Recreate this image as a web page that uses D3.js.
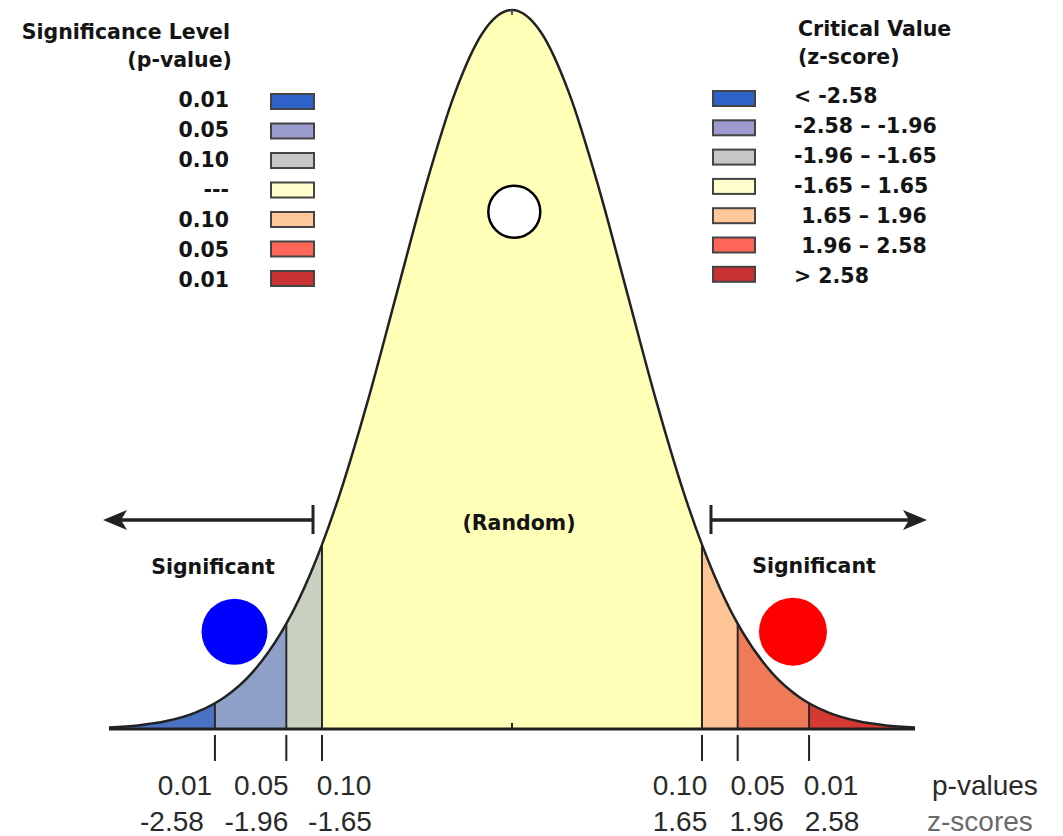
<!DOCTYPE html>
<html>
<head>
<meta charset="utf-8">
<script src="https://cdn.jsdelivr.net/npm/d3@7"></script>
<style>
  body { margin: 0; background: #fff; }
  svg { display: block; }
  .leg { font-family: "DejaVu Sans", Verdana, sans-serif; font-weight: bold; font-size: 20.5px; fill: #141414; white-space: pre; }
  .tick-lab { font-family: "Liberation Sans", Arial, sans-serif; font-size: 28px; fill: #2a2a2a; }
</style>
</head>
<body>
<script>
// curve heights (density per z unit), left half mirrored
var curveZ = [0, 0.25, 0.5, 0.75, 1, 1.25, 1.5, 1.65, 1.75, 1.96, 2, 2.25, 2.5, 2.58, 2.75, 3, 3.25, 3.5]
var curveDensity = [0.3989, 0.3867, 0.3521, 0.3011, 0.2420, 0.1826, 0.1295, 0.1023, 0.0863, 0.0584, 0.0540, 0.0317, 0.0175, 0.0143, 0.0091, 0.0044, 0.0020, 0.0009]

// critical values and their labels
var zBreaks = [-2.58, -1.96, -1.65, 1.65, 1.96, 2.58]
var pTickLabels = ["0.01", "0.05", "0.10", "0.10", "0.05", "0.01"]
var zTickLabels = ["-2.58", "-1.96", "-1.65", "1.65", "1.96", "2.58"]

// legend rows
var pLegend = ["0.01", "0.05", "0.10", "---", "0.10", "0.05", "0.01"]
var zLegend = ["< -2.58", "-2.58 \u2013 -1.96", "-1.96 \u2013 -1.65", "-1.65 \u2013 1.65", " 1.65 \u2013 1.96", " 1.96 \u2013 2.58", "> 2.58"]

// marker dots (z, density)
var dotZ = [-2.41, 0.02, 2.44]
var dotDensity = [0.054, 0.287, 0.054]

var regionColors = ["#4a72c4", "#8fa0c8", "#c8d0c0", "#ffffb8", "#fdc596", "#f07a58", "#d43a32"]
var swatchColors = ["#2f62c8", "#9b9bd0", "#c6c6c6", "#ffffcc", "#ffc89a", "#ff6659", "#c83232"]
var dotColors = ["#0000ff", "#ffffff", "#ff0000"]
var dotRadius = [33, 26, 34]
var pShift = [-30, -25, 22, -22, 20, 22]
var zShift = [-43, -30, 18, -22, 19, 23]

var width = 1063, height = 836

var svg = d3.select("body").append("svg")
    .attr("width", width)
    .attr("height", height)

var x = d3.scaleLinear().domain([-3.5, 3.5]).range([109, 915])
var y = d3.scaleLinear().domain([0, 0.3989]).range([729, 10])

// build full symmetric curve
var pts = []
for (var i = curveZ.length - 1; i > 0; i--) pts.push([-curveZ[i], curveDensity[i]])
for (var i = 0; i < curveZ.length; i++) pts.push([curveZ[i], curveDensity[i]])

var area = d3.area()
    .x(function(d) { return x(d[0]) })
    .y0(y(0))
    .y1(function(d) { return y(d[1]) })
    .curve(d3.curveMonotoneX)

var line = d3.line()
    .x(function(d) { return x(d[0]) })
    .y(function(d) { return y(d[1]) })
    .curve(d3.curveMonotoneX)

svg.append("clipPath").attr("id", "under")
  .append("path").attr("d", area(pts))

var edges = [-3.5].concat(zBreaks).concat([3.5])
var under = svg.append("g").attr("clip-path", "url(#under)")

under.selectAll("rect")
  .data(regionColors)
  .enter().append("rect")
    .attr("x", function(d, i) { return x(edges[i]) })
    .attr("width", function(d, i) { return x(edges[i + 1]) - x(edges[i]) })
    .attr("y", 0)
    .attr("height", y(0))
    .attr("fill", function(d) { return d })

under.selectAll("line")
  .data(zBreaks)
  .enter().append("line")
    .attr("x1", function(d) { return x(d) })
    .attr("x2", function(d) { return x(d) })
    .attr("y1", 0)
    .attr("y2", y(0))
    .attr("stroke", "#2a2a2a")
    .attr("stroke-width", 2)

svg.append("path")
  .attr("d", line(pts))
  .attr("fill", "none")
  .attr("stroke", "#222")
  .attr("stroke-width", 2.5)

// baseline
svg.append("line")
  .attr("x1", x(-3.5)).attr("x2", x(3.5))
  .attr("y1", y(0)).attr("y2", y(0))
  .attr("stroke", "#222").attr("stroke-width", 3)

svg.append("line")
  .attr("x1", x(0)).attr("x2", x(0))
  .attr("y1", y(0) - 6).attr("y2", y(0))
  .attr("stroke", "#222").attr("stroke-width", 2)

svg.append("line")
  .attr("x1", x(0)).attr("x2", x(0))
  .attr("y1", y(0.3989)).attr("y2", y(0.3989) + 5)
  .attr("stroke", "#555").attr("stroke-width", 2)

// ticks below the axis
svg.selectAll(".tk")
  .data(zBreaks)
  .enter().append("line")
    .attr("class", "tk")
    .attr("x1", function(d) { return x(d) })
    .attr("x2", function(d) { return x(d) })
    .attr("y1", 735)
    .attr("y2", 761)
    .attr("stroke", "#222")
    .attr("stroke-width", 2)

svg.selectAll(".plab")
  .data(pTickLabels)
  .enter().append("text")
    .attr("class", "tick-lab")
    .attr("x", function(d, i) { return x(zBreaks[i]) + pShift[i] })
    .attr("y", 795)
    .attr("text-anchor", "middle")
    .text(function(d) { return d })

svg.selectAll(".zlab")
  .data(zTickLabels)
  .enter().append("text")
    .attr("class", "tick-lab")
    .attr("x", function(d, i) { return x(zBreaks[i]) + zShift[i] })
    .attr("y", 831)
    .attr("text-anchor", "middle")
    .text(function(d) { return d })

svg.append("text").attr("class", "tick-lab")
  .attr("x", 932).attr("y", 795).text("p-values")
svg.append("text").attr("class", "tick-lab")
  .attr("x", 927).attr("y", 831).style("fill", "#6a6a6a").text("z-scores")

// arrows
var ay = 520
function arrow(barX, tipX) {
  var dir = tipX < barX ? -1 : 1
  svg.append("line")
    .attr("x1", barX).attr("x2", tipX - dir * 10)
    .attr("y1", ay).attr("y2", ay)
    .attr("stroke", "#222").attr("stroke-width", 3.5)
  svg.append("line")
    .attr("x1", barX).attr("x2", barX)
    .attr("y1", ay - 15).attr("y2", ay + 14)
    .attr("stroke", "#222").attr("stroke-width", 3)
  svg.append("path")
    .attr("d", "M" + tipX + "," + ay +
      "L" + (tipX - dir * 24) + "," + (ay - 10) +
      "L" + (tipX - dir * 18) + "," + ay +
      "L" + (tipX - dir * 24) + "," + (ay + 10) + "Z")
    .attr("fill", "#222")
}
arrow(x(zBreaks[2]) - 9, x(-3.5) - 6)
arrow(x(zBreaks[3]) + 9, x(3.5) + 12)

svg.append("text").attr("class", "leg")
  .attr("x", 519).attr("y", 530).attr("text-anchor", "middle").text("(Random)")
svg.append("text").attr("class", "leg")
  .attr("x", 213).attr("y", 574).attr("text-anchor", "middle").text("Significant")
svg.append("text").attr("class", "leg")
  .attr("x", 814).attr("y", 573).attr("text-anchor", "middle").text("Significant")

// dots
svg.selectAll(".dot")
  .data(dotZ)
  .enter().append("circle")
    .attr("class", "dot")
    .attr("cx", function(d) { return x(d) })
    .attr("cy", function(d, i) { return y(dotDensity[i]) })
    .attr("r", function(d, i) { return dotRadius[i] })
    .attr("fill", function(d, i) { return dotColors[i] })
    .attr("stroke", function(d, i) { return i == 1 ? "#000" : "none" })
    .attr("stroke-width", 2.5)

// left legend
svg.append("text").attr("class", "leg")
  .attr("x", 230).attr("y", 39).attr("text-anchor", "end").text("Significance Level")
svg.append("text").attr("class", "leg")
  .attr("x", 232).attr("y", 67).attr("text-anchor", "end").text("(p-value)")

svg.selectAll(".pleg")
  .data(pLegend)
  .enter().append("text")
    .attr("class", "leg")
    .attr("x", 229)
    .attr("y", function(d, i) { return 106.5 + i * 30 })
    .attr("text-anchor", "end")
    .text(function(d) { return d })

svg.selectAll(".psw")
  .data(swatchColors)
  .enter().append("rect")
    .attr("x", 271)
    .attr("y", function(d, i) { return 94 + i * 29.5 })
    .attr("width", 43)
    .attr("height", 15)
    .attr("fill", function(d) { return d })
    .attr("stroke", "#444")
    .attr("stroke-width", 2)

// right legend
svg.append("text").attr("class", "leg")
  .attr("x", 798).attr("y", 36).text("Critical Value")
svg.append("text").attr("class", "leg")
  .attr("x", 798).attr("y", 64).text("(z-score)")

svg.selectAll(".zleg")
  .data(zLegend)
  .enter().append("text")
    .attr("class", "leg")
    .attr("x", 794)
    .attr("y", function(d, i) { return 103 + i * 30 })
    .text(function(d) { return d })

svg.selectAll(".zsw")
  .data(swatchColors)
  .enter().append("rect")
    .attr("x", 713)
    .attr("y", function(d, i) { return 91 + i * 29.3 })
    .attr("width", 42)
    .attr("height", 15)
    .attr("fill", function(d) { return d })
    .attr("stroke", "#444")
    .attr("stroke-width", 2)
</script>
</body>
</html>
